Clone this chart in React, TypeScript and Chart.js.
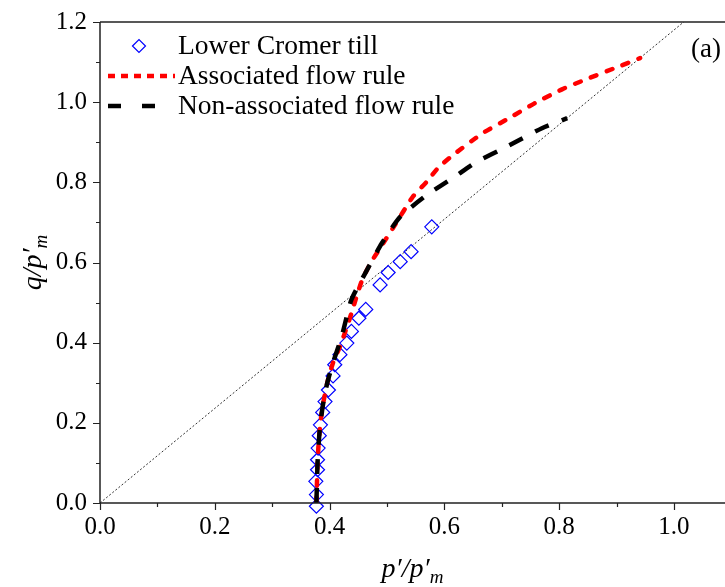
import React, { useEffect, useRef } from 'react';
import { Chart, registerables } from 'chart.js';

Chart.register(...registerables);

// ---- data ----
const xTickValues = [0, 0.2, 0.4, 0.6, 0.8, 1.0];
const yTickValues = [0, 0.2, 0.4, 0.6, 0.8, 1.0, 1.2];
const xMinorValues = [0.1, 0.3, 0.5, 0.7, 0.9];
const yMinorValues = [0.1, 0.3, 0.5, 0.7, 0.9, 1.1];

const tillP = [0.377, 0.377, 0.376, 0.379, 0.379, 0.38, 0.382, 0.384, 0.388, 0.392, 0.398, 0.406, 0.409, 0.418, 0.43, 0.438, 0.451, 0.463, 0.488, 0.502, 0.523, 0.542, 0.578];
const tillQ = [-0.008, 0.021, 0.054, 0.083, 0.108, 0.137, 0.168, 0.195, 0.226, 0.253, 0.282, 0.317, 0.345, 0.37, 0.399, 0.428, 0.461, 0.483, 0.544, 0.575, 0.602, 0.627, 0.689];

const assocP = [0.377, 0.378, 0.379, 0.381, 0.384, 0.389, 0.396, 0.406, 0.418, 0.428, 0.438, 0.448, 0.458, 0.472, 0.488, 0.514, 0.545, 0.569, 0.589, 0.615, 0.666, 0.715, 0.757, 0.805, 0.847, 0.895, 0.941];
const assocQ = [0.0, 0.05, 0.1, 0.15, 0.2, 0.25, 0.3, 0.35, 0.39, 0.43, 0.473, 0.52, 0.561, 0.6, 0.636, 0.694, 0.764, 0.801, 0.836, 0.868, 0.922, 0.962, 0.997, 1.032, 1.057, 1.084, 1.11];

const nonP = [0.377, 0.378, 0.379, 0.381, 0.384, 0.389, 0.396, 0.406, 0.421, 0.438, 0.462, 0.491, 0.523, 0.569, 0.618, 0.656, 0.71, 0.77, 0.814];
const nonQ = [0.0, 0.05, 0.1, 0.15, 0.2, 0.25, 0.3, 0.35, 0.415, 0.507, 0.573, 0.648, 0.714, 0.768, 0.814, 0.851, 0.89, 0.935, 0.96];

const csP = [0, 1.1];
const csQ = [0, 1.298];

const legendLabels = ['Lower Cromer till', 'Associated flow rule', 'Non-associated flow rule'];
const panelLabel = '(a)';

const SERIF = '"Liberation Serif", "Times New Roman", serif';

export default function App() {
  const ref = useRef<HTMLCanvasElement>(null);

  useEffect(() => {
    const canvas = ref.current!;
    const toPts = (xs: number[], ys: number[]) => xs.map((x, i) => ({ x, y: ys[i] }));

    const decor = {
      id: 'decor',
      afterDraw(chart: any) {
        const { ctx, chartArea: a, scales } = chart;
        const xs = scales.x;
        const ys = scales.y;
        ctx.save();
        // axes frame
        ctx.strokeStyle = '#222';
        ctx.lineWidth = 1.5;
        ctx.beginPath();
        ctx.moveTo(a.left, a.top);
        ctx.lineTo(a.left, a.bottom);
        ctx.lineTo(a.right, a.bottom);
        ctx.moveTo(a.left, a.top);
        ctx.lineTo(a.right, a.top);
        ctx.stroke();
        // ticks
        ctx.lineWidth = 1.2;
        ctx.beginPath();
        for (const v of xTickValues) {
          const px = Math.round(xs.getPixelForValue(v)) + 0.5;
          ctx.moveTo(px, a.bottom); ctx.lineTo(px, a.bottom + 7);
        }
        for (const v of xMinorValues) {
          const px = Math.round(xs.getPixelForValue(v)) + 0.5;
          ctx.moveTo(px, a.bottom); ctx.lineTo(px, a.bottom + 4);
        }
        for (const v of yTickValues) {
          const py = Math.round(ys.getPixelForValue(v)) + 0.5;
          ctx.moveTo(a.left, py); ctx.lineTo(a.left - 7, py);
        }
        for (const v of yMinorValues) {
          const py = Math.round(ys.getPixelForValue(v)) + 0.5;
          ctx.moveTo(a.left, py); ctx.lineTo(a.left - 4, py);
        }
        ctx.stroke();

        // legend
        ctx.fillStyle = '#000';
        ctx.font = `27.5px ${SERIF}`;
        ctx.textBaseline = 'middle';
        ctx.textAlign = 'left';
        const rows = [46, 76, 106];
        ctx.strokeStyle = '#0000ff';
        ctx.lineWidth = 1.2;
        const dx = 139, dy = rows[0], r = 6.5;
        ctx.beginPath();
        ctx.moveTo(dx - r, dy); ctx.lineTo(dx, dy - r); ctx.lineTo(dx + r, dy); ctx.lineTo(dx, dy + r); ctx.closePath();
        ctx.stroke();
        ctx.strokeStyle = '#ff0000';
        ctx.lineWidth = 4.5;
        ctx.setLineDash([7, 6]);
        ctx.beginPath(); ctx.moveTo(108, rows[1]); ctx.lineTo(175, rows[1]); ctx.stroke();
        ctx.strokeStyle = '#000';
        ctx.setLineDash([13, 21]);
        ctx.beginPath(); ctx.moveTo(108, rows[2]); ctx.lineTo(156, rows[2]); ctx.stroke();
        ctx.setLineDash([]);
        legendLabels.forEach((t, i) => ctx.fillText(t, 178, rows[i] + 1));

        // panel label
        ctx.textAlign = 'center';
        ctx.font = `27px ${SERIF}`;
        ctx.fillText(panelLabel, 706, 50);

        // axis titles
        const drawTitle = (main: string, sub: string) => {
          ctx.font = `italic 28px ${SERIF}`;
          const w1 = ctx.measureText(main).width;
          ctx.font = `italic 19px ${SERIF}`;
          const w2 = ctx.measureText(sub).width;
          const tw = w1 + w2;
          ctx.textAlign = 'left';
          ctx.textBaseline = 'alphabetic';
          ctx.font = `italic 28px ${SERIF}`;
          ctx.fillText(main, -tw / 2, 0);
          ctx.font = `italic 19px ${SERIF}`;
          ctx.fillText(sub, -tw / 2 + w1, 6);
        };
        ctx.save();
        ctx.translate((a.left + a.right) / 2, 577);
        drawTitle('p\u2032/p\u2032', 'm');
        ctx.restore();
        ctx.save();
        ctx.translate(41, (a.top + a.bottom) / 2);
        ctx.rotate(-Math.PI / 2);
        drawTitle('q/p\u2032', 'm');
        ctx.restore();

        ctx.restore();
      },
    };

    const chart = new Chart(canvas, {
      type: 'scatter',
      data: {
        datasets: [
          {
            label: 'Non-associated flow rule',
            data: toPts(nonP, nonQ),
            showLine: true,
            borderColor: '#000',
            borderWidth: 4.5,
            borderDash: [15, 14],
            pointRadius: 0,
            tension: 0.2,
            order: 1,
          },
          {
            label: 'Associated flow rule',
            data: toPts(assocP, assocQ),
            showLine: true,
            borderColor: '#ff0000',
            borderWidth: 4.5,
            borderDash: [6, 11],
            borderCapStyle: 'round',
            pointRadius: 0,
            tension: 0.2,
            order: 2,
          },
          {
            label: 'Lower Cromer till',
            data: toPts(tillP, tillQ),
            showLine: false,
            pointStyle: 'rectRot',
            pointRadius: 7,
            pointBorderWidth: 1.2,
            pointBorderColor: '#0000ff',
            pointBackgroundColor: 'rgba(0,0,0,0)',
            clip: false,
            order: 3,
          },
          {
            label: 'CSL',
            data: toPts(csP, csQ),
            showLine: true,
            borderColor: '#333',
            borderWidth: 1,
            borderDash: [2, 2],
            pointRadius: 0,
            clip: 0,
            order: 4,
          },
        ],
      },
      options: {
        animation: false,
        responsive: false,
        devicePixelRatio: 1,
        layout: { autoPadding: false, padding: { top: 22, right: 0, left: 0, bottom: 0 } },
        plugins: { legend: { display: false }, tooltip: { enabled: false } },
        scales: {
          x: {
            type: 'linear',
            min: 0,
            max: 1.0889,
            grid: { display: false },
            border: { display: false },
            afterBuildTicks: (s: any) => { s.ticks = xTickValues.map((v) => ({ value: v })); },
            afterFit: (s: any) => { s.height = 84; s.paddingLeft = 0; s.paddingRight = 0; },
            ticks: {
              padding: 1,
              color: '#000',
              font: { family: SERIF, size: 25 },
              callback: (v: any) => Number(v).toFixed(1),
              maxRotation: 0,
            },
          },
          y: {
            type: 'linear',
            min: 0,
            max: 1.2,
            grid: { display: false },
            border: { display: false },
            afterBuildTicks: (s: any) => { s.ticks = yTickValues.map((v) => ({ value: v })); },
            afterFit: (s: any) => { s.width = 100; s.paddingTop = 0; s.paddingBottom = 0; },
            ticks: {
              padding: 5,
              color: '#000',
              font: { family: SERIF, size: 25 },
              callback: (v: any) => Number(v).toFixed(1),
            },
          },
        },
      },
      plugins: [decor],
    } as any);

    return () => chart.destroy();
  }, []);

  return (
    <div style={{ position: 'absolute', left: 0, top: 0, width: 725, height: 587, background: '#fff' }}>
      <canvas ref={ref} width={725} height={587} style={{ display: 'block', width: 725, height: 587 }} />
    </div>
  );
}
